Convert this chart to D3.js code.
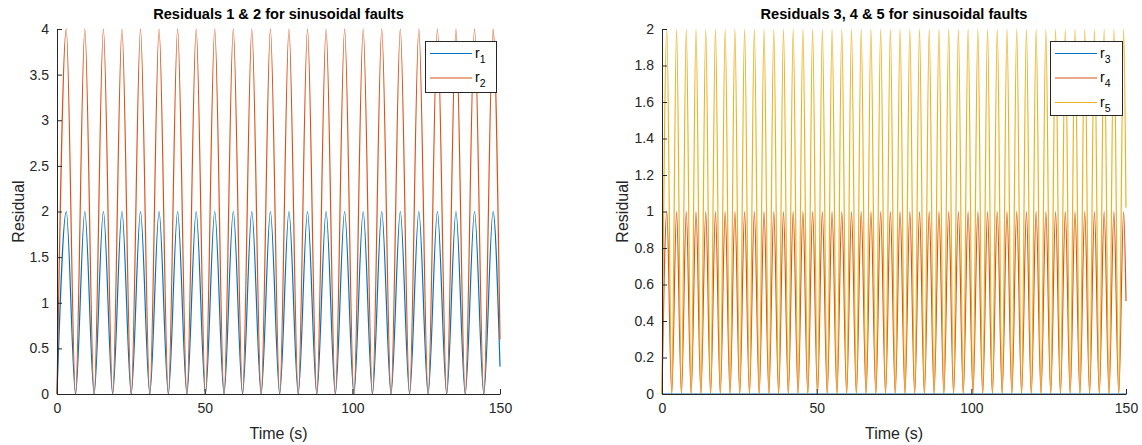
<!DOCTYPE html>
<html><head><meta charset="utf-8">
<script src="https://cdn.jsdelivr.net/npm/d3@7"></script>
<style>
body{margin:0;background:#fff}
svg{display:block}
text{font-family:"Liberation Sans",Arial,Helvetica,sans-serif}
</style>
</head><body>
<svg id="chart" width="1142" height="445"></svg>
<script>
// ---- data (turning points of each residual, plus final sample) ----
const time12 = [0, 3.14, 6.28, 9.42, 12.57, 15.71, 18.85, 21.99, 25.13, 28.27,
  31.42, 34.56, 37.70, 40.84, 43.98, 47.12, 50.27, 53.41, 56.55, 59.69,
  62.83, 65.97, 69.12, 72.26, 75.40, 78.54, 81.68, 84.82, 87.96, 91.11,
  94.25, 97.39, 100.53, 103.67, 106.81, 109.96, 113.10, 116.24, 119.38, 122.52,
  125.66, 128.81, 131.95, 135.09, 138.23, 141.37, 144.51, 147.65, 150];
const r1 = [0,2,0,2,0,2,0,2,0,2, 0,2,0,2,0,2,0,2,0,2, 0,2,0,2,0,2,0,2,0,2,
  0,2,0,2,0,2,0,2,0,2, 0,2,0,2,0,2,0,2, 0.30];
const r2 = [0,4,0,4,0,4,0,4,0,4, 0,4,0,4,0,4,0,4,0,4, 0,4,0,4,0,4,0,4,0,4,
  0,4,0,4,0,4,0,4,0,4, 0,4,0,4,0,4,0,4, 0.60];

const time345 = [0, 1.57, 3.14, 4.71, 6.28, 7.85, 9.42, 11.00, 12.57, 14.14,
  15.71, 17.28, 18.85, 20.42, 21.99, 23.56, 25.13, 26.70, 28.27, 29.85,
  31.42, 32.99, 34.56, 36.13, 37.70, 39.27, 40.84, 42.41, 43.98, 45.55,
  47.12, 48.69, 50.27, 51.84, 53.41, 54.98, 56.55, 58.12, 59.69, 61.26,
  62.83, 64.40, 65.97, 67.54, 69.12, 70.69, 72.26, 73.83, 75.40, 76.97,
  78.54, 80.11, 81.68, 83.25, 84.82, 86.39, 87.96, 89.54, 91.11, 92.68,
  94.25, 95.82, 97.39, 98.96, 100.53, 102.10, 103.67, 105.24, 106.81, 108.38,
  109.96, 111.53, 113.10, 114.67, 116.24, 117.81, 119.38, 120.95, 122.52, 124.09,
  125.66, 127.23, 128.81, 130.38, 131.95, 133.52, 135.09, 136.66, 138.23, 139.80,
  141.37, 142.94, 144.51, 146.08, 147.65, 149.23, 150];
const r3Time = [0, 150];
const r3 = [0, 0];
const r4 = [0,1,0,1,0,1,0,1,0,1, 0,1,0,1,0,1,0,1,0,1, 0,1,0,1,0,1,0,1,0,1,
  0,1,0,1,0,1,0,1,0,1, 0,1,0,1,0,1,0,1,0,1, 0,1,0,1,0,1,0,1,0,1,
  0,1,0,1,0,1,0,1,0,1, 0,1,0,1,0,1,0,1,0,1, 0,1,0,1,0,1,0,1,0,1,
  0,1,0,1,0,1, 0.51];
const r5 = [0,2,0,2,0,2,0,2,0,2, 0,2,0,2,0,2,0,2,0,2, 0,2,0,2,0,2,0,2,0,2,
  0,2,0,2,0,2,0,2,0,2, 0,2,0,2,0,2,0,2,0,2, 0,2,0,2,0,2,0,2,0,2,
  0,2,0,2,0,2,0,2,0,2, 0,2,0,2,0,2,0,2,0,2, 0,2,0,2,0,2,0,2,0,2,
  0,2,0,2,0,2, 1.02];

const xTicks = [0, 50, 100, 150];
const yTicks12 = [0, 0.5, 1, 1.5, 2, 2.5, 3, 3.5, 4];
const yTicks345 = [0, 0.2, 0.4, 0.6, 0.8, 1, 1.2, 1.4, 1.6, 1.8, 2];
const titles = ["Residuals 1 & 2 for sinusoidal faults", "Residuals 3, 4 & 5 for sinusoidal faults"];
const xLabel = "Time (s)";
const yLabel = "Residual";
const legend12 = ["1", "2"];
const legend345 = ["3", "4", "5"];

// ---- drawing ----
const svg = d3.select("#chart");
const AX = "#262626";
const C_BLUE = "#0072BD", C_RED = "#D95319", C_YEL = "#EDB120";

function panel(cfg) {
  const g = svg.append("g");
  const x = d3.scaleLinear().domain([0, 150]).range([cfg.x0, cfg.x1]);
  const y = d3.scaleLinear().domain(cfg.yDomain).range([cfg.y1, cfg.y0]);

  // series
  const line = d3.line().x(d => x(d[0])).y(d => y(d[1])).curve(d3.curveMonotoneX);
  cfg.series.forEach(s => {
    g.append("path")
      .attr("d", line(d3.zip(s.t, s.v)))
      .attr("fill", "none")
      .attr("stroke", s.color)
      .attr("stroke-width", 1.2)
      .attr("stroke-linejoin", "round");
  });

  // axes
  const xa = g.append("g").attr("transform", `translate(0,${cfg.y1})`)
    .call(d3.axisBottom(x).tickValues(xTicks).tickFormat(d => String(d))
      .tickSizeInner(-5).tickSizeOuter(0).tickPadding(9));
  const ya = g.append("g").attr("transform", `translate(${cfg.x0},0)`)
    .call(d3.axisLeft(y).tickValues(cfg.yTicks).tickFormat(d => String(d))
      .tickSizeInner(-5).tickSizeOuter(0).tickPadding(8));
  [xa, ya].forEach(a => {
    a.select(".domain").attr("stroke", AX).attr("stroke-width", 1);
    a.selectAll(".tick line").attr("stroke", AX).attr("stroke-width", 1);
    a.selectAll(".tick text").attr("fill", AX).style("font-size", "14px")
      .style("font-family", '"Liberation Sans",Arial,Helvetica,sans-serif');
  });

  // title & labels
  g.append("text").attr("x", (cfg.x0 + cfg.x1) / 2).attr("y", 19)
    .attr("text-anchor", "middle").attr("font-weight", "bold").attr("font-size", 14.6)
    .attr("fill", "#000").text(cfg.title);
  g.append("text").attr("x", (cfg.x0 + cfg.x1) / 2).attr("y", 439)
    .attr("text-anchor", "middle").attr("font-size", 16).attr("fill", AX).text(xLabel);
  g.append("text").attr("transform", `translate(${cfg.x0 - cfg.yLabelOff},${(cfg.y0 + cfg.y1) / 2}) rotate(-90)`)
    .attr("text-anchor", "middle").attr("font-size", 16).attr("fill", AX).text(yLabel);

  // legend
  const L = cfg.legend;
  const lg = g.append("g").attr("transform", `translate(${L.x},${L.y})`);
  lg.append("rect").attr("x", 0.5).attr("y", 0.5).attr("width", L.w).attr("height", L.h)
    .attr("fill", "#fff").attr("stroke", AX).attr("stroke-width", 1);
  L.items.forEach((it, i) => {
    const yy = 12.5 + i * 24.5;
    lg.append("line").attr("x1", 5).attr("x2", 47).attr("y1", yy).attr("y2", yy)
      .attr("stroke", it.color).attr("stroke-width", 1.2);
    const t = lg.append("text").attr("x", 50).attr("y", yy + 4).attr("font-size", 14).attr("fill", "#000");
    t.append("tspan").text("r");
    t.append("tspan").attr("dy", 5).attr("font-size", 10.5).text(it.label);
  });
}

panel({
  x0: 57, x1: 500, y0: 29, y1: 394, yDomain: [0, 4], yTicks: yTicks12, yLabelOff: 33,
  title: titles[0],
  series: [{t: time12, v: r1, color: C_BLUE}, {t: time12, v: r2, color: C_RED}],
  legend: {x: 425, y: 41, w: 71, h: 51,
    items: [{label: legend12[0], color: C_BLUE}, {label: legend12[1], color: C_RED}]}
});
panel({
  x0: 662, x1: 1126, y0: 29, y1: 394, yDomain: [0, 2], yTicks: yTicks345, yLabelOff: 34,
  title: titles[1],
  series: [{t: r3Time, v: r3, color: C_BLUE}, {t: time345, v: r4, color: C_RED}, {t: time345, v: r5, color: C_YEL}],
  legend: {x: 1050, y: 41, w: 72, h: 74,
    items: [{label: legend345[0], color: C_BLUE}, {label: legend345[1], color: C_RED}, {label: legend345[2], color: C_YEL}]}
});
</script>
</body></html>
